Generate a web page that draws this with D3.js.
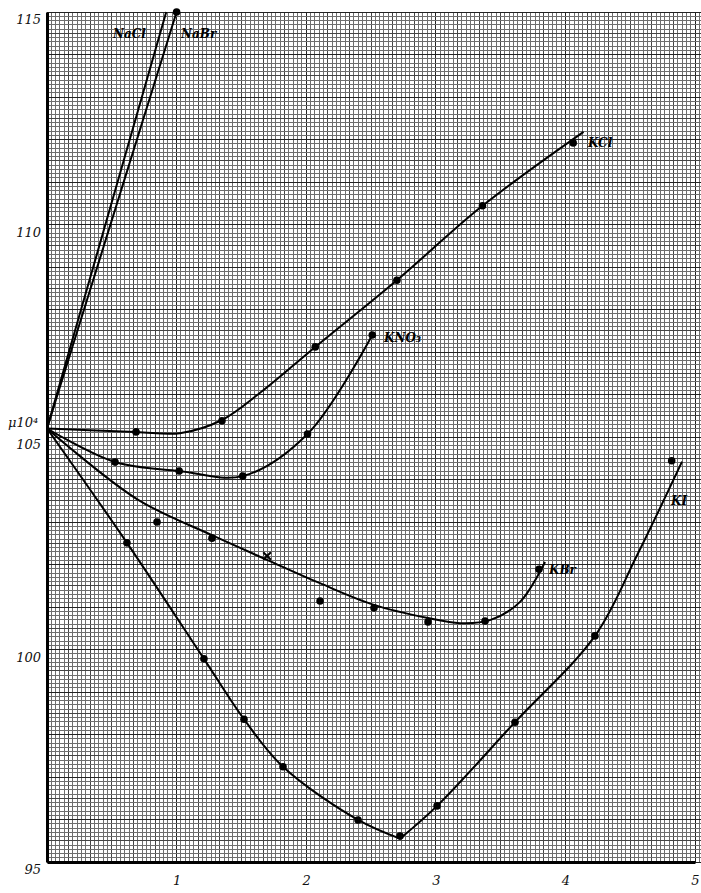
<!DOCTYPE html>
<html>
<head>
<meta charset="utf-8">
<script src="https://cdn.jsdelivr.net/npm/d3@7"></script>
<style>
  body { margin: 0; background: #fff; }
  .hand { font-family: "DejaVu Serif", serif; font-style: italic; fill: #111; }
</style>
</head>
<body>
<script>
// tick labels
var xTicks = [1, 2, 3, 4, 5];
var yTicks = [95, 100, 105, 110, 115];

// drawn lines
var naclLine = [[0, 105.2], [0.92, 115]];
var nabrLine = [[0, 105.2], [1.0, 115]];
var kclCurve = [[0, 105.2], [0.687, 105.12], [1.026, 105.09], [1.35, 105.4], [1.644, 106.04],
                [2.07, 107.12], [2.70, 108.69], [3.36, 110.44], [4.14, 112.18]];
var kno3Curve = [[0, 105.2], [0.525, 104.41], [1.02, 104.2], [1.51, 104.08], [2.01, 105.07], [2.51, 107.4]];
var kbrCurve = [[0, 105.2], [0.694, 103.54], [1.273, 102.69], [1.698, 102.11],
                [2.106, 101.56], [2.523, 101.05], [2.94, 100.74], [3.187, 100.62], [3.418, 100.69],
                [3.65, 101.12], [3.843, 102.06]];
var kiFall = [[0, 105.2], [0.617, 102.51], [1.211, 99.78], [1.52, 98.36], [1.821, 97.24],
              [2.40, 95.99], [2.724, 95.55]];
var kiRise = [[2.724, 95.55], [3.01, 96.32], [3.611, 98.29], [4.228, 100.32], [4.55, 102.2], [4.9, 104.42]];

// measured points
var nabrPoints = [[1.0, 115]];
var kclPoints = [[0.687, 105.12], [1.35, 105.38], [2.07, 107.12], [2.70, 108.69], [3.36, 110.44], [4.06, 111.92]];
var kno3Points = [[0.525, 104.41], [1.02, 104.2], [1.51, 104.08], [2.01, 105.07], [2.51, 107.4]];
var kbrPoints = [[0.849, 103.0], [1.273, 102.62], [2.107, 101.14], [2.523, 100.98], [2.94, 100.65],
                 [3.38, 100.67], [3.796, 101.89]];
var kbrCross = [[1.698, 102.2]];
var kiPoints = [[0.617, 102.51], [1.211, 99.78], [1.52, 98.36], [1.821, 97.24], [2.40, 95.99],
                [2.724, 95.61], [3.01, 96.32], [3.611, 98.29], [4.228, 100.32], [4.82, 104.44]];

var width = 701, height = 893;

var svg = d3.select("body").append("svg")
    .attr("width", width)
    .attr("height", height);

svg.append("rect").attr("width", width).attr("height", height).attr("fill", "#fff");

var x = d3.scaleLinear().domain([0, 5]).range([47, 695]);
var y = d3.scaleLinear().domain([95, 115]).range([862, 12]);

// graph paper: 10 small squares per cm, cm = 1 unit in y, 1/3 unit in x
var grid = svg.append("g").attr("shape-rendering", "crispEdges");
var xMax = x.invert(width);
function gridColor(k, big) { return k % big == 0 ? "#222" : (k % 5 == 0 ? "#444" : "#6e6e6e"); }
d3.range(0, Math.floor(xMax * 30) + 1).forEach(function(k) {
  var px = x(k / 30);
  grid.append("line")
    .attr("x1", px).attr("x2", px)
    .attr("y1", y(115)).attr("y2", y(95))
    .attr("stroke", gridColor(k, 30))
    .attr("stroke-width", 1);
});
d3.range(0, 201).forEach(function(k) {
  var py = y(95 + k / 10);
  grid.append("line")
    .attr("x1", x(0)).attr("x2", width)
    .attr("y1", py).attr("y2", py)
    .attr("stroke", gridColor(k, 10))
    .attr("stroke-width", 1);
});

// axes
var xAxis = d3.axisBottom(x).tickValues(xTicks).tickSize(0).tickPadding(14)
    .tickFormat(d3.format("d"));
var yAxis = d3.axisLeft(y).tickValues(yTicks).tickSize(0).tickPadding(6)
    .tickFormat(d3.format("d"));

var gx = svg.append("g").attr("transform", "translate(0," + y(95) + ")").call(xAxis);
var gy = svg.append("g").attr("transform", "translate(" + x(0) + ",0)").call(yAxis);

[gx, gy].forEach(function(g) {
  g.select(".domain").attr("stroke", "#000").attr("stroke-width", 3);
  g.selectAll("text").attr("class", "hand").attr("font-size", 13);
});
gy.selectAll("text").attr("dy", "0.9em");

svg.append("text").attr("class", "hand")
  .attr("x", 8).attr("y", y(105) - 10)
  .attr("font-size", 13)
  .text("μ10⁴");

// curves
var line = d3.line()
  .x(function(d) { return x(d[0]); })
  .y(function(d) { return y(d[1]); });
var smooth = d3.line()
  .x(function(d) { return x(d[0]); })
  .y(function(d) { return y(d[1]); })
  .curve(d3.curveCatmullRom.alpha(0.5));

svg.append("path").attr("d", line(naclLine)).attr("fill", "none").attr("stroke", "#000").attr("stroke-width", 2);
svg.append("path").attr("d", line(nabrLine)).attr("fill", "none").attr("stroke", "#000").attr("stroke-width", 2);

[kclCurve, kno3Curve, kbrCurve, kiFall, kiRise].forEach(function(c) {
  svg.append("path")
    .attr("d", smooth(c))
    .attr("fill", "none")
    .attr("stroke", "#000")
    .attr("stroke-width", 2);
});

// points
var allPoints = nabrPoints.concat(kclPoints, kno3Points, kbrPoints, kiPoints);
svg.append("g").selectAll("circle")
  .data(allPoints)
  .enter()
  .append("circle")
    .attr("cx", function(d) { return x(d[0]); })
    .attr("cy", function(d) { return y(d[1]); })
    .attr("r", 3.8)
    .attr("fill", "#000");

svg.append("g").selectAll("path")
  .data(kbrCross)
  .enter()
  .append("path")
    .attr("transform", function(d) { return "translate(" + x(d[0]) + "," + y(d[1]) + ")"; })
    .attr("d", d3.symbol(d3.symbolX, 40))
    .attr("stroke", "#000")
    .attr("stroke-width", 2);

// curve names
var names = svg.append("g").attr("class", "hand").attr("font-size", 12).attr("font-weight", "bold")
  .style("fill", "#000");
names.append("text").attr("x", 113).attr("y", 38).text("NaCl");
names.append("text").attr("x", 181).attr("y", 38).text("NaBr");
names.append("text").attr("x", 588).attr("y", 147).text("KCl");
names.append("text").attr("x", 384).attr("y", 342).text("KNO₃");
names.append("text").attr("x", 549).attr("y", 574).text("KBr");
names.append("text").attr("x", 671).attr("y", 505).text("KI");
</script>
</body>
</html>
